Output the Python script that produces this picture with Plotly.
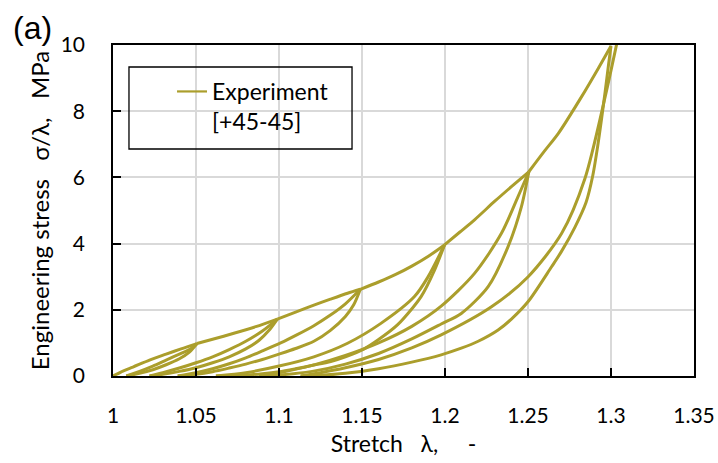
import plotly.graph_objects as go

# ---- data (stretch λ, engineering stress σ/λ in MPa) ----
env_a_x = [1.000, 1.006, 1.012, 1.022, 1.032, 1.041, 1.0506]
env_a_y = [0.00, 0.15, 0.27, 0.48, 0.66, 0.82, 0.98]
unl_1_x = [1.0506, 1.046, 1.040, 1.032, 1.024, 1.016, 1.008]
unl_1_y = [0.98, 0.72, 0.52, 0.34, 0.19, 0.08, 0.00]
rel_1_x = [1.008, 1.016, 1.024, 1.032, 1.040, 1.046, 1.0506]
rel_1_y = [0.00, 0.14, 0.30, 0.48, 0.66, 0.80, 0.98]

env_b_x = [1.0506, 1.060, 1.0728, 1.086, 1.099]
env_b_y = [0.98, 1.11, 1.29, 1.49, 1.72]
unl_2_x = [1.099, 1.094, 1.088, 1.080, 1.070, 1.060, 1.050, 1.040, 1.030, 1.022]
unl_2_y = [1.72, 1.38, 1.08, 0.82, 0.58, 0.40, 0.25, 0.14, 0.05, 0.00]
rel_2_x = [1.022, 1.030, 1.040, 1.050, 1.060, 1.070, 1.080, 1.090, 1.099]
rel_2_y = [0.00, 0.10, 0.24, 0.40, 0.58, 0.80, 1.05, 1.36, 1.72]

env_c_x = [1.099, 1.110, 1.121, 1.131, 1.1413, 1.149]
env_c_y = [1.72, 1.93, 2.14, 2.32, 2.50, 2.62]
unl_3_x = [1.149, 1.145, 1.140, 1.131, 1.121, 1.110, 1.100, 1.090, 1.080, 1.070, 1.060, 1.050, 1.039]
unl_3_y = [2.62, 2.15, 1.80, 1.38, 1.05, 0.83, 0.66, 0.50, 0.36, 0.24, 0.13, 0.05, 0.00]
rel_3_x = [1.039, 1.050, 1.060, 1.070, 1.080, 1.090, 1.101, 1.111, 1.121, 1.131, 1.140, 1.149]
rel_3_y = [0.00, 0.10, 0.22, 0.37, 0.55, 0.76, 1.00, 1.25, 1.52, 1.84, 2.18, 2.62]

env_d_x = [1.149, 1.160, 1.170, 1.180, 1.190, 1.1997]
env_d_y = [2.62, 2.84, 3.06, 3.32, 3.62, 3.96]
unl_4_x = [1.1997, 1.1937, 1.1856, 1.1715, 1.160, 1.1513, 1.140, 1.1312, 1.121, 1.110, 1.100, 1.090, 1.080, 1.070, 1.062]
unl_4_y = [3.96, 3.20, 2.40, 1.55, 1.10, 0.82, 0.58, 0.44, 0.33, 0.22, 0.13, 0.07, 0.03, 0.01, 0.00]
rel_4_x = [1.062, 1.080, 1.100, 1.121, 1.1413, 1.1614, 1.1816, 1.1896, 1.1997]
rel_4_y = [0.00, 0.10, 0.30, 0.58, 0.99, 1.59, 2.40, 2.98, 3.96]

env_e_x = [1.1997, 1.209, 1.2178, 1.230, 1.240, 1.2505]
env_e_y = [3.96, 4.35, 4.72, 5.28, 5.72, 6.17]
unl_5_x = [1.2505, 1.246, 1.238, 1.226, 1.2098, 1.1977, 1.180, 1.160, 1.140, 1.120, 1.100, 1.088]
unl_5_y = [6.17, 5.11, 3.91, 2.70, 1.89, 1.57, 1.12, 0.68, 0.36, 0.14, 0.03, 0.00]
rel_5_x = [1.088, 1.100, 1.120, 1.140, 1.160, 1.180, 1.1977, 1.2178, 1.234, 1.244, 1.2505]
rel_5_y = [0.00, 0.10, 0.32, 0.62, 1.00, 1.50, 2.11, 3.10, 4.31, 5.42, 6.17]

env_f_x = [1.2505, 1.260, 1.2683, 1.2823, 1.2924, 1.300]
env_f_y = [6.17, 6.80, 7.33, 8.44, 9.30, 9.97]
unl_6_x = [1.300, 1.2985, 1.2965, 1.2944, 1.292, 1.289, 1.285, 1.2783, 1.270, 1.2642, 1.2501,
           1.240, 1.232, 1.220, 1.2098, 1.1977, 1.180, 1.160, 1.140, 1.125, 1.113]
unl_6_y = [9.97, 9.40, 8.60, 7.80, 6.95, 6.05, 5.25, 4.50, 3.75, 3.30, 2.25,
           1.72, 1.39, 1.05, 0.84, 0.64, 0.42, 0.22, 0.08, 0.02, 0.00]
rel_6_x = [1.113, 1.125, 1.140, 1.160, 1.180, 1.1977, 1.228, 1.2501, 1.2703, 1.2842, 1.2965, 1.3035]
rel_6_y = [0.00, 0.10, 0.25, 0.50, 0.85, 1.24, 2.09, 3.00, 4.31, 5.95, 8.44, 10.05]

segments = [
    (env_a_x, env_a_y), (unl_1_x, unl_1_y), (rel_1_x, rel_1_y),
    (env_b_x, env_b_y), (unl_2_x, unl_2_y), (rel_2_x, rel_2_y),
    (env_c_x, env_c_y), (unl_3_x, unl_3_y), (rel_3_x, rel_3_y),
    (env_d_x, env_d_y), (unl_4_x, unl_4_y), (rel_4_x, rel_4_y),
    (env_e_x, env_e_y), (unl_5_x, unl_5_y), (rel_5_x, rel_5_y),
    (env_f_x, env_f_y), (unl_6_x, unl_6_y), (rel_6_x, rel_6_y),
]

x_ticks = [1, 1.05, 1.1, 1.15, 1.2, 1.25, 1.3, 1.35]
x_tick_labels = ["1", "1.05", "1.1", "1.15", "1.2", "1.25", "1.3", "1.35"]
y_ticks = [0, 2, 4, 6, 8, 10]

COLOR = "#ab9e2c"
FONT = "Lato"

fig = go.Figure()
for i, (sx, sy) in enumerate(segments):
    fig.add_trace(go.Scatter(
        x=sx, y=sy, mode="lines",
        line=dict(color=COLOR, width=3, shape="spline", smoothing=0.8),
        legendgroup="exp", showlegend=False, hoverinfo="skip",
    ))
# legend entry (thinner line sample, like the reference)
fig.add_trace(go.Scatter(
    x=[None], y=[None], mode="lines",
    line=dict(color=COLOR, width=2.2),
    name="Experiment<br>[+45-45]", legendgroup="exp", showlegend=True,
))

fig.update_layout(
    width=718, height=463,
    margin=dict(l=113, r=24, t=45, b=87),
    paper_bgcolor="white", plot_bgcolor="white",
    font=dict(family=FONT, size=21, color="black"),
    showlegend=True,
    legend=dict(
        x=0.1016, y=0.9245, xanchor="left", yanchor="top",
        borderwidth=0, bgcolor="rgba(0,0,0,0)",
        font=dict(family=FONT, size=23, color="black"),
        valign="top",
    ),
    shapes=[dict(
        type="rect", xref="paper", yref="paper",
        x0=0.0275, x1=0.4114, y0=0.6858, y1=0.9335,
        line=dict(color="black", width=1.3), fillcolor="rgba(0,0,0,0)",
    )],
    xaxis=dict(
        range=[1, 1.35], tickvals=x_ticks, ticktext=x_tick_labels,
        showline=True, mirror=True, linecolor="black", linewidth=1.5,
        ticks="inside", ticklen=8, tickcolor="black", tickwidth=1.5,
        showgrid=True, gridcolor="#d9d9d9", gridwidth=1.5,
        zeroline=False, ticklabelstandoff=20, automargin=False,
        tickfont=dict(family=FONT, size=21),
        title=dict(text="Stretch\u00a0\u00a0\u00a0λ,\u00a0\u00a0\u00a0\u00a0\u00a0-",
                   font=dict(family=FONT, size=23), standoff=10),
    ),
    yaxis=dict(
        range=[0, 10], tickvals=y_ticks,
        showline=True, mirror=True, linecolor="black", linewidth=1.5,
        ticks="inside", ticklen=8, tickcolor="black", tickwidth=1.5,
        showgrid=True, gridcolor="#d9d9d9", gridwidth=1.5,
        zeroline=False, ticklabelstandoff=22, automargin=False,
        tickfont=dict(family=FONT, size=21),
        title=dict(text="Engineering stress\u00a0\u00a0\u00a0σ/λ,\u00a0\u00a0\u00a0MPa",
                   font=dict(family=FONT, size=24), standoff=4),
    ),
    annotations=[dict(
        text="(a)", xref="paper", yref="paper", x=-0.138, y=1.05,
        xanchor="center", yanchor="middle", showarrow=False,
        font=dict(family="Liberation Sans", size=32, color="black"),
    )],
)

fig.write_html("out.html")
